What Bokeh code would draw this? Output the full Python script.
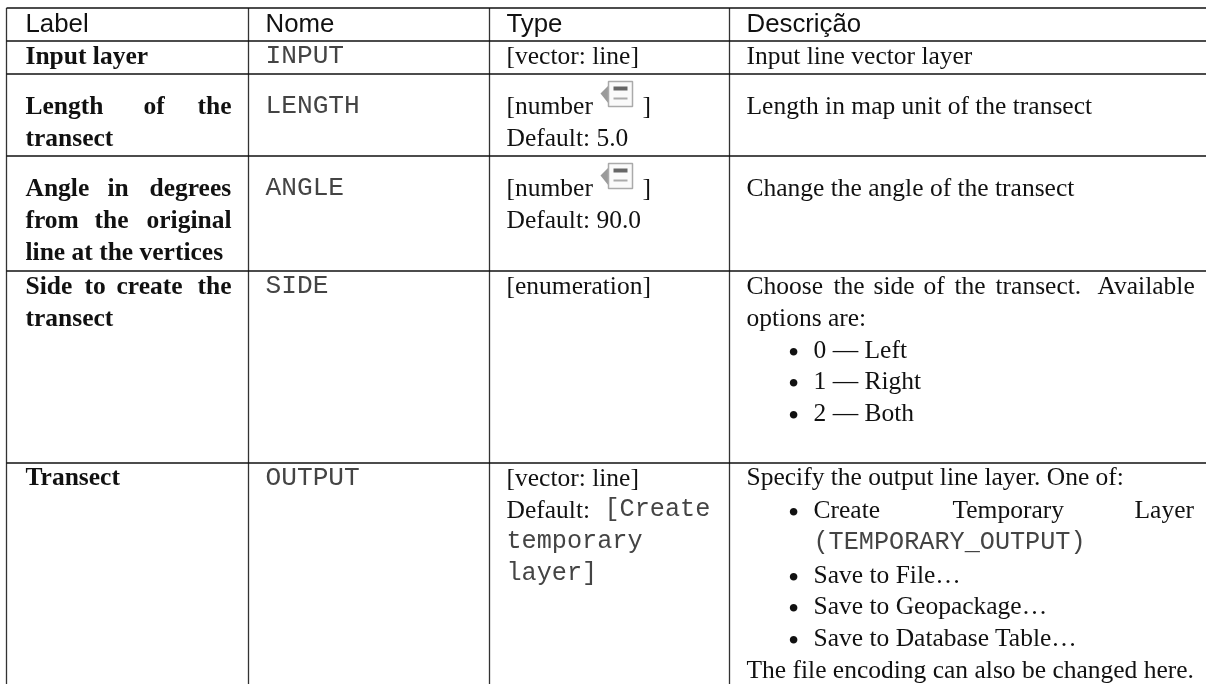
from bokeh.plotting import figure
from bokeh.models import Range1d
from bokeh.core.properties import value
from bokeh.embed import file_html
from bokeh.resources import INLINE

SERIF = "Liberation Serif"
SANS = "Liberation Sans"
MONO = "Liberation Mono"

col_lines = [6, 248, 489, 729]
row_lines = [7.5, 40.5, 73.5, 155.5, 270.5, 462.5]

header = [("Label", 25), ("Nome", 265), ("Type", 506), ("Descrição", 746)]

# (text, x, baseline)
bold_cells = [
    ("Input layer", 25, 63),
    ("Length", 25, 113), ("of", 143, 113), ("the", 197, 113),
    ("transect", 25, 145),
    ("Angle", 25, 195), ("in", 107, 195), ("degrees", 149, 195),
    ("from", 25, 227), ("the", 94, 227), ("original", 146, 227),
    ("line at the vertices", 25, 259),
    ("Side", 25, 293), ("to", 84, 293), ("create", 116, 293), ("the", 197, 293),
    ("transect", 25, 325),
    ("Transect", 25, 484),
]
name_cells = [
    ("INPUT", 265, 63), ("LENGTH", 265, 113), ("ANGLE", 265, 195), ("SIDE", 265, 293), ("OUTPUT", 265, 485),
]
mono_cells = [
    ("[Create", 604, 517), ("temporary", 506, 549), ("layer]", 506, 581),
    ("(TEMPORARY_OUTPUT)", 813, 550),
]
serif_cells = [
    ("[vector: line]", 506, 63),
    ("[number", 506, 113), ("]", 642, 113), ("Default: 5.0", 506, 145),
    ("[number", 506, 195), ("]", 642, 195), ("Default: 90.0", 506, 227),
    ("[enumeration]", 506, 293),
    ("[vector: line]", 506, 485), ("Default:", 506, 517),
    ("Input line vector layer", 746, 63),
    ("Length in map unit of the transect", 746, 113),
    ("Change the angle of the transect", 746, 195),
    ("Choose", 746, 293), ("the", 833, 293), ("side", 873, 293), ("of", 923, 293),
    ("the", 954, 293), ("transect.", 995, 293), ("Available", 1097, 293),
    ("options are:", 746, 325),
    ("0 — Left", 813, 357),
    ("1 — Right", 813, 388),
    ("2 — Both", 813, 420),
    ("Specify the output line layer. One of:", 746, 484),
    ("Create", 813, 517), ("Temporary", 952, 517), ("Layer", 1134, 517),
    ("Save to File…", 813, 582),
    ("Save to Geopackage…", 813, 613),
    ("Save to Database Table…", 813, 645),
    ("The file encoding can also be changed here.", 746, 677),
]
bullet_cells = [("•", 787.5, y) for y in (359.5, 390.5, 422.5, 519.5, 584.5, 615.5, 647.5)]
icon_origins = [(600, 80), (600, 162)]

p = figure(width=1206, height=684, output_backend="svg", toolbar_location=None,
           x_range=Range1d(0, 1206), y_range=Range1d(684, 0),
           min_border=0, outline_line_color=None,
           styles={"position": "fixed", "left": "0px", "top": "0px"})
p.axis.visible = False
p.grid.visible = False

p.segment(col_lines, [row_lines[0]] * 4, col_lines, [684] * 4, line_color="#333333", line_width=1.3)
p.segment([col_lines[0]] * 6, row_lines, [1206] * 6, row_lines, line_color="#111111", line_width=1.5)


def put(cells, font, size, style="normal", color="#111111"):
    p.text([c[1] for c in cells], [c[2] for c in cells], [c[0] for c in cells],
           text_font=value(font), text_font_size=size, text_font_style=style,
           text_color=color, text_baseline="alphabetic", text_align="left", y_offset=-8)


put([(t, x, 30) for t, x in header], SANS, "25.8px")
put(bold_cells, SERIF, "25.5px", "bold")
put(serif_cells, SERIF, "25.5px")
put(bullet_cells, SERIF, "32px")
put(name_cells, MONO, "26.2px", color="#444444")
put(mono_cells, MONO, "25.2px", color="#444444")

for ox, oy in icon_origins:
    p.patch([ox, ox + 8, ox + 8], [oy + 13, oy + 5, oy + 23], fill_color="#9a9a9a", line_color=None)
    p.quad(left=[ox + 8], right=[ox + 32], top=[oy + 1], bottom=[oy + 26],
           fill_color="#fafafa", line_color="#aaaaaa", line_width=1.5)
    p.quad(left=[ox + 13, ox + 13], right=[ox + 27, ox + 27], top=[oy + 6, oy + 17], bottom=[oy + 10, oy + 19],
           fill_color=["#666666", "#aaaaaa"], line_color=None)

open("out.html", "w").write(file_html(p, INLINE))
